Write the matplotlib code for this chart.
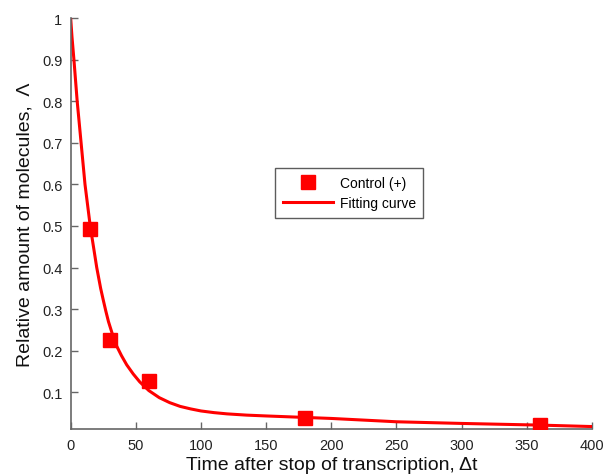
import matplotlib
matplotlib.use("Agg")
import matplotlib.pyplot as plt

plt.rcParams['font.family'] = ['Liberation Sans', 'DejaVu Sans']

# Measured data (Control (+))
time_points = [15, 30, 60, 180, 360]
control_values = [0.492, 0.226, 0.127, 0.037, 0.022]

# Fitting curve
fit_time = [0, 1, 2.5, 5, 8, 11, 13, 15, 17.5, 20, 23, 25, 27, 29, 31, 33, 35,
            39, 43, 48, 53, 60, 68, 76, 84, 92, 100, 110, 120, 135, 150, 175,
            200, 225, 250, 275, 300, 330, 360, 400]
fit_values = [1.0, 0.955, 0.9, 0.8, 0.7, 0.6, 0.55, 0.5, 0.45, 0.4, 0.35, 0.322,
              0.295, 0.27, 0.25, 0.23, 0.213, 0.188, 0.166, 0.144, 0.125,
              0.104, 0.087, 0.075, 0.066, 0.06, 0.055, 0.051, 0.048, 0.045,
              0.043, 0.04, 0.037, 0.033, 0.029, 0.027, 0.025, 0.023, 0.021,
              0.0175]

x_ticks = [0, 50, 100, 150, 200, 250, 300, 350, 400]
y_ticks = [0.1, 0.2, 0.3, 0.4, 0.5, 0.6, 0.7, 0.8, 0.9, 1]
y_tick_labels = ['0.1', '0.2', '0.3', '0.4', '0.5', '0.6', '0.7', '0.8', '0.9', '1']

fig = plt.figure(figsize=(6.04, 4.77), dpi=100)
ax = fig.add_axes([0.117, 0.098, 0.863, 0.862])

ax.plot(time_points, control_values, linestyle='none', marker='s',
        markersize=10, color='#ff0000', label='Control (+)', zorder=3)
ax.plot(fit_time, fit_values, color='#ff0000', linewidth=2.2,
        label='Fitting curve', zorder=2)

ax.set_xlim(0, 400)
ax.set_ylim(0.011, 1)
ax.set_xticks(x_ticks)
ax.set_yticks(y_ticks)
ax.set_yticklabels(y_tick_labels)

for side in ['top', 'right']:
    ax.spines[side].set_visible(False)
for side in ['left', 'bottom']:
    ax.spines[side].set_color('#666666')
    ax.spines[side].set_linewidth(1.2)
ax.tick_params(direction='in', length=5, width=1, color='#666666',
               labelsize=10.5, labelcolor='#222222', pad=6)

ax.set_xlabel('Time after stop of transcription, \u0394t', fontsize=14,
              labelpad=3, color='#111111')
ax.set_ylabel('Relative amount of molecules,  \u039b', fontsize=14,
              labelpad=6, color='#111111')

leg = ax.legend(loc='upper left', bbox_to_anchor=(0.392, 0.635), fontsize=10,
                frameon=True, fancybox=False, handlelength=3.6,
                borderaxespad=0, handletextpad=0.5, borderpad=0.55,
                labelspacing=0.45)
leg.get_frame().set_edgecolor('#333333')
leg.get_frame().set_linewidth(1.0)

fig.savefig('out.png', dpi=100)
